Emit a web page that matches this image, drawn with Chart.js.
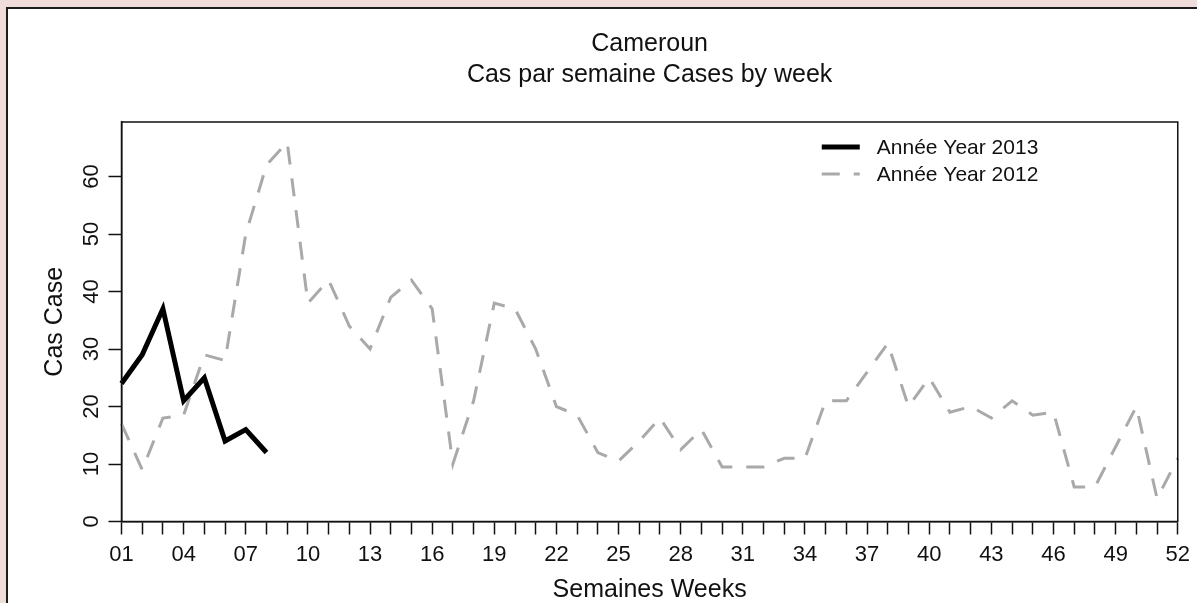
<!DOCTYPE html>
<html>
<head>
<meta charset="utf-8">
<title>Cameroun - Cas par semaine</title>
<script src="https://cdn.jsdelivr.net/npm/chart.js@4.4.1/dist/chart.umd.min.js"></script>
<style>
  html, body { margin: 0; padding: 0; background: #f1dcdc; overflow: hidden; }
  #cadre { position: absolute; left: 6px; top: 7px; width: 1300px; height: 700px; background: #fff; border: 2px solid #1c1c1c; }
  #zone { position: absolute; left: 0; top: 0; width: 1197px; height: 603px; }
</style>
</head>
<body>
<div id="cadre"></div>
<div id="zone"><canvas id="casChart" width="1197" height="603"></canvas></div>
<script>
    // Semaines épidémiologiques (axe X)
    const semaines = ['01', '02', '03', '04', '05', '06', '07', '08', '09', '10',
        '11', '12', '13', '14', '15', '16', '17', '18', '19', '20',
        '21', '22', '23', '24', '25', '26', '27', '28', '29', '30',
        '31', '32', '33', '34', '35', '36', '37', '38', '39', '40',
        '41', '42', '43', '44', '45', '46', '47', '48', '49', '50',
        '51', '52'];

    // Cas par semaine - année 2013 (semaines 1 à 8 seulement)
    const cas2013 = [24, 29, 37, 21, 25, 14, 16, 12];

    // Cas par semaine - année 2012
    const cas2012 = [17, 9, 18, 18.5, 29, 28, 50, 62, 66, 38,
        42, 34, 30, 39, 42, 37, 10, 21, 38, 37,
        30, 20, 18.5, 12, 10.5, 14, 18, 12.5, 16, 9.5,
        9.5, 9.5, 11, 11, 21, 21, 26, 31, 20, 25,
        19, 20, 18, 21, 18.5, 19, 6, 6, 13, 20,
        4, 11];

    // Graduations de l'axe Y
    const graduationsY = [0, 10, 20, 30, 40, 50, 60];

    Chart.defaults.font.family = '"Liberation Sans", Arial, sans-serif';
    Chart.defaults.color = '#111';

    // Cadre autour de la zone de tracé
    const cadrePlot = {
        id: 'cadrePlot',
        afterDatasetsDraw(chart) {
            const { ctx, chartArea: a } = chart;
            ctx.save();
            ctx.strokeStyle = '#111';
            ctx.lineWidth = 1.5;
            ctx.strokeRect(a.left, a.top, a.right - a.left, a.bottom - a.top);
            ctx.restore();
        }
    };

    // Légende dessinée à l'intérieur du graphique (coin haut droit)
    const legendeInterne = {
        id: 'legendeInterne',
        afterDraw(chart) {
            const { ctx, chartArea: a } = chart;
            const x0 = a.right - 356;
            const y0 = a.top + 25;
            chart.data.datasets.forEach((ds, i) => {
                const y = y0 + i * 27;
                ctx.save();
                ctx.strokeStyle = ds.borderColor;
                ctx.lineWidth = ds.borderWidth;
                ctx.setLineDash(ds.borderDash || []);
                ctx.beginPath();
                ctx.moveTo(x0, y);
                ctx.lineTo(x0 + 38, y);
                ctx.stroke();
                ctx.setLineDash([]);
                ctx.fillStyle = '#111';
                ctx.font = '21px "Liberation Sans", Arial, sans-serif';
                ctx.textBaseline = 'middle';
                ctx.fillText(ds.label, x0 + 55, y + 1);
                ctx.restore();
            });
        }
    };

    const ctx = document.getElementById('casChart').getContext('2d');
    new Chart(ctx, {
        type: 'line',
        data: {
            labels: semaines,
            datasets: [{
                label: 'Année Year 2013',
                data: cas2013,
                borderColor: '#000',
                borderWidth: 5,
                pointRadius: 0,
                tension: 0,
                fill: false
            },
            {
                label: 'Année Year 2012',
                data: cas2012,
                borderColor: '#a9a9a9',
                borderWidth: 3,
                borderDash: [18, 14],
                pointRadius: 0,
                tension: 0,
                fill: false
            }]
        },
        options: {
            responsive: false,
            animation: false,
            layout: { padding: { left: 0, right: 19, top: 0, bottom: 0 } },
            plugins: {
                legend: { display: false },
                tooltip: { enabled: false },
                title: {
                    display: true,
                    fullSize: false,
                    text: ['Cameroun', 'Cas par semaine Cases by week'],
                    color: '#111',
                    font: { size: 25, weight: 'normal', lineHeight: 31 / 25 },
                    padding: { top: 28.5, bottom: 31.5 }
                }
            },
            scales: {
                x: {
                    type: 'category',
                    offset: false,
                    border: { display: true, color: '#111', width: 1.5 },
                    grid: { drawOnChartArea: false, drawTicks: true, tickLength: 13, tickColor: '#111', tickWidth: 1.5 },
                    ticks: {
                        autoSkip: false,
                        maxRotation: 0,
                        minRotation: 0,
                        padding: 7,
                        font: { size: 22 },
                        callback: (v, i) => i % 3 === 0 ? semaines[i] : ''
                    },
                    title: {
                        display: true,
                        text: 'Semaines Weeks',
                        font: { size: 25, lineHeight: 1 },
                        padding: { top: 0, bottom: 0.5 }
                    },
                    afterFit: s => { s.height = 81.5; }
                },
                y: {
                    min: 0,
                    max: 69.5,
                    border: { display: true, color: '#111', width: 1.5 },
                    grid: { drawOnChartArea: false, drawTicks: true, tickLength: 13, tickColor: '#111', tickWidth: 1.5 },
                    afterBuildTicks: s => { s.ticks = graduationsY.map(v => ({ value: v })); },
                    ticks: {
                        minRotation: 90,
                        maxRotation: 90,
                        crossAlign: 'center',
                        padding: 4,
                        font: { size: 22 }
                    },
                    title: {
                        display: true,
                        text: 'Cas Case',
                        font: { size: 25, lineHeight: 1.2 },
                        padding: { top: 40, bottom: 0 }
                    },
                    afterFit: s => { s.width = 121.5; }
                }
            }
        },
        plugins: [cadrePlot, legendeInterne]
    });
</script>
</body>
</html>
